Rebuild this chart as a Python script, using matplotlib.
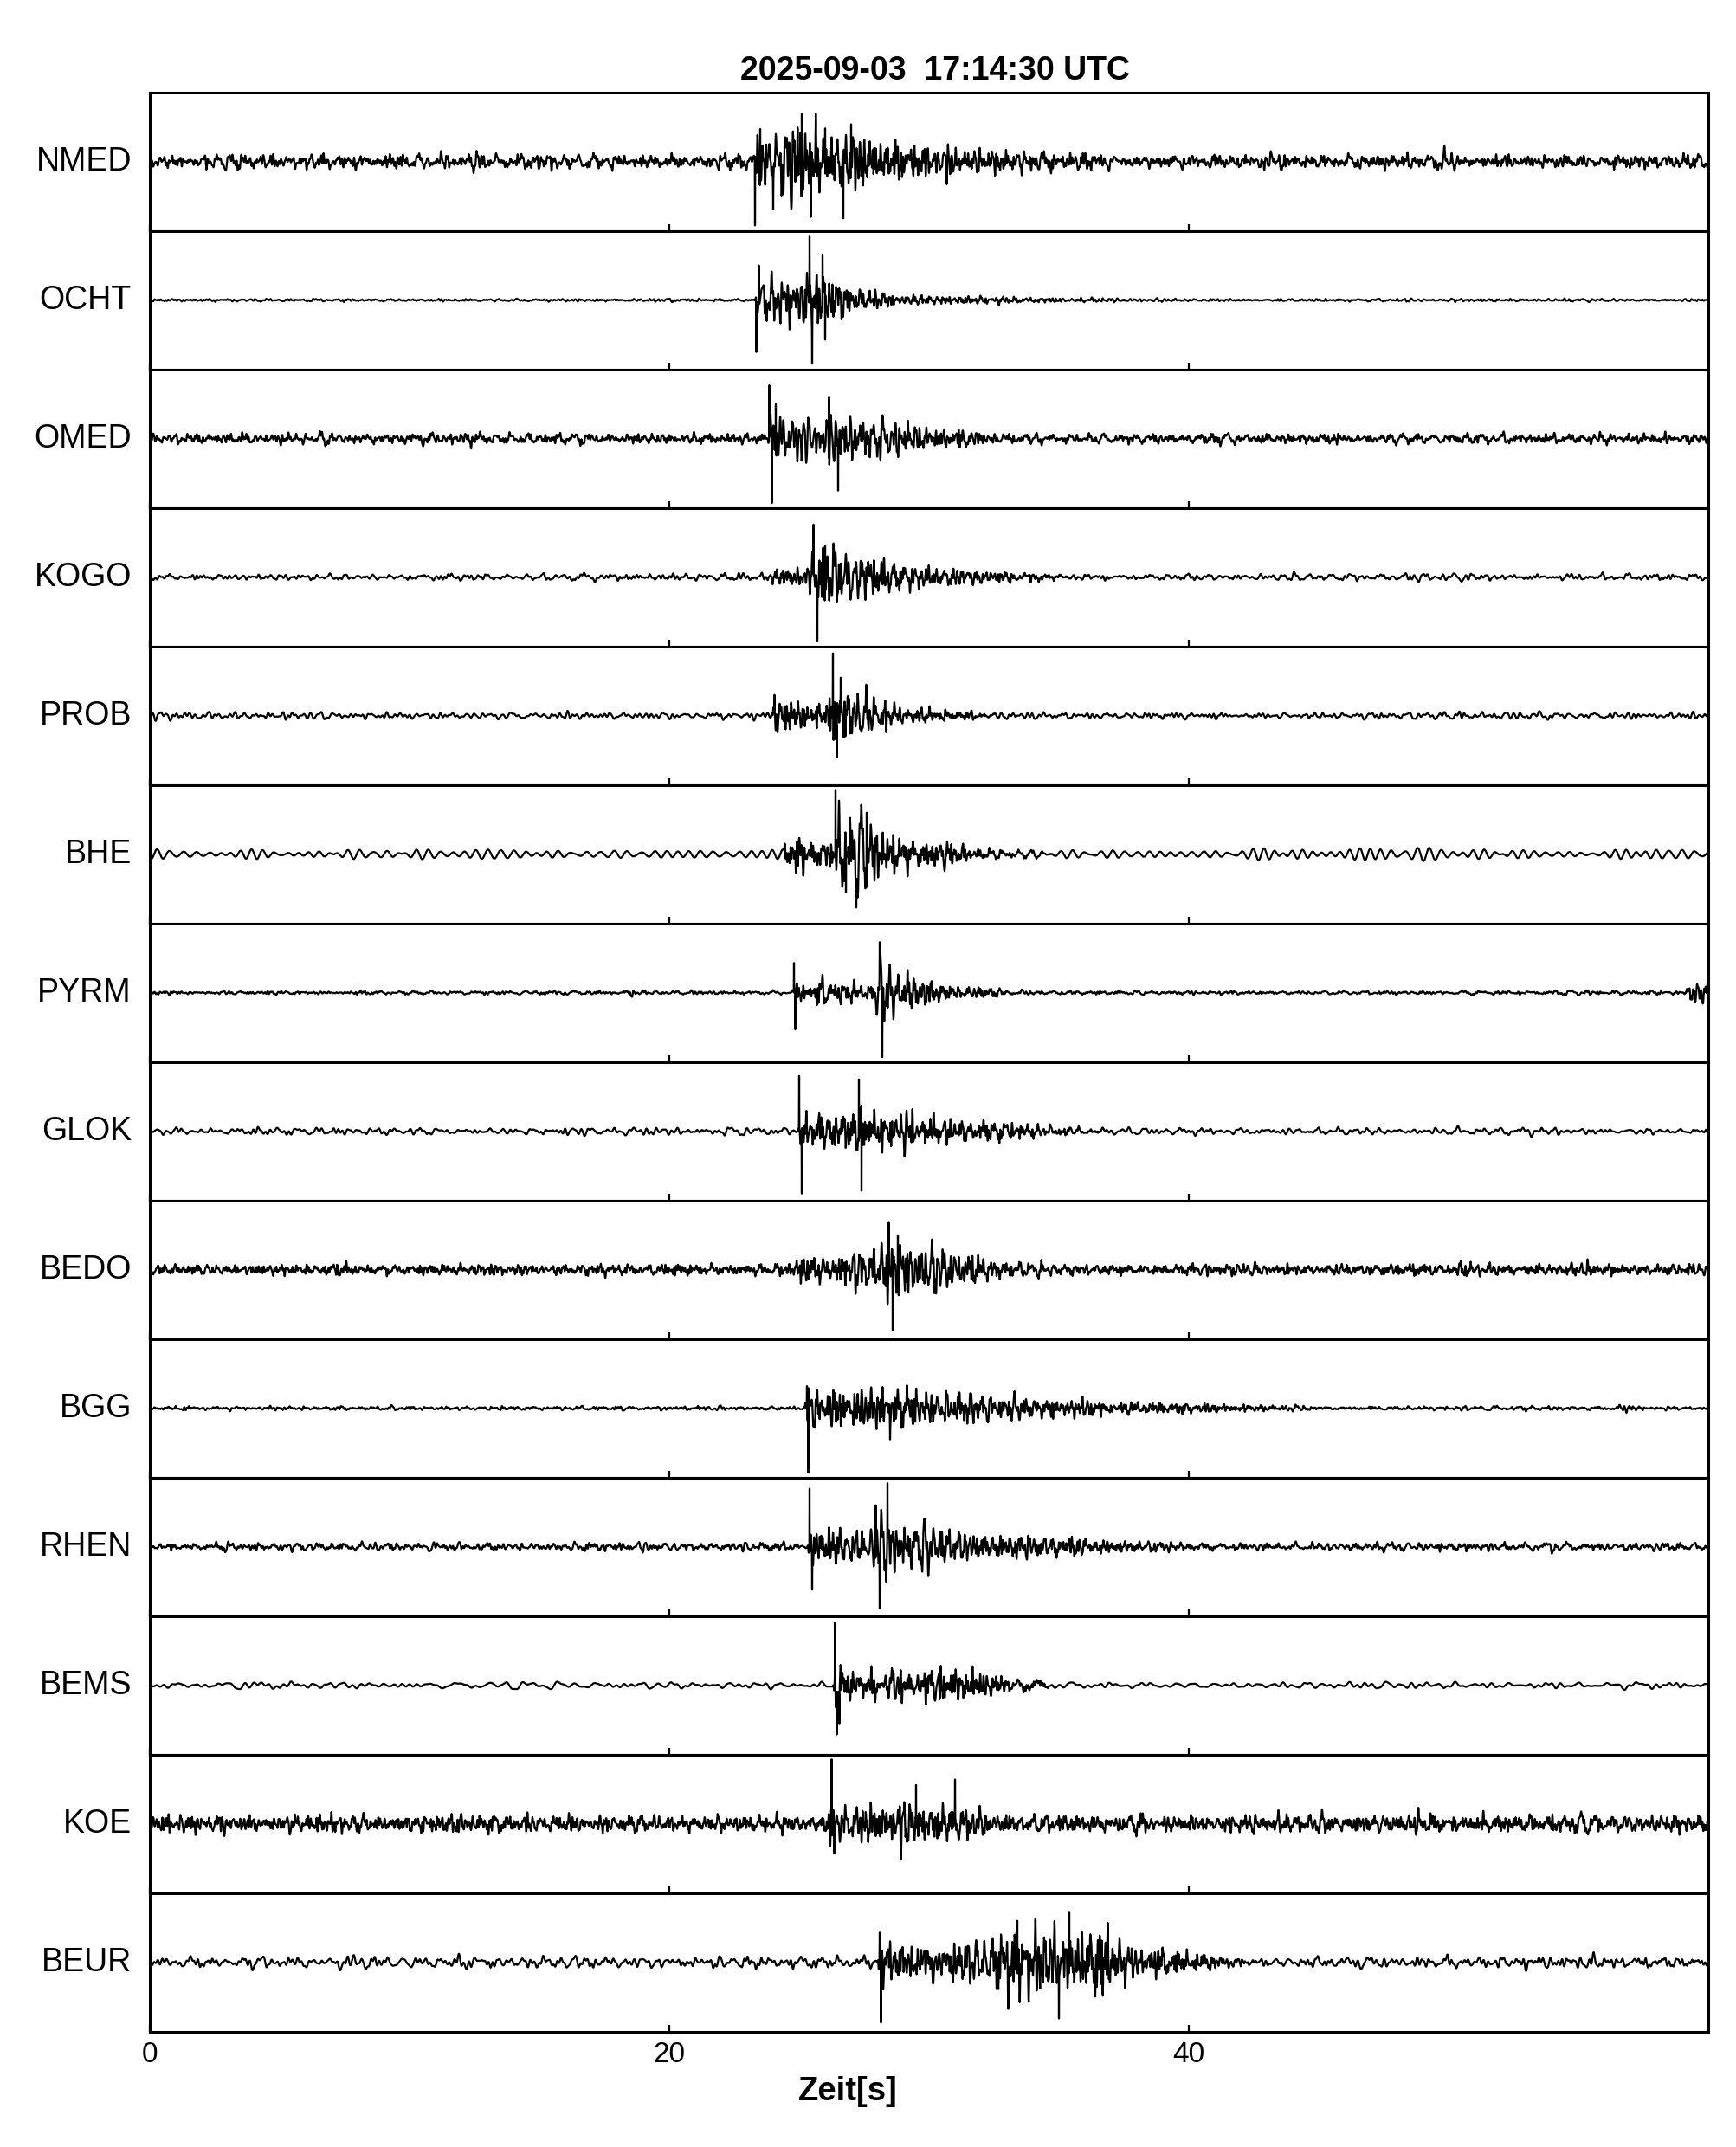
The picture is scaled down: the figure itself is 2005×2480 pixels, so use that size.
import numpy as np
import matplotlib
matplotlib.use("Agg")
import matplotlib.pyplot as plt

plt.rcParams['font.family'] = ['Liberation Sans', 'DejaVu Sans']

# Stations, top to bottom
stations = ['NMED', 'OCHT', 'OMED', 'KOGO', 'PROB', 'BHE', 'PYRM',
            'GLOK', 'BEDO', 'BGG', 'RHEN', 'BEMS', 'KOE', 'BEUR']

# background noise level (fraction of half panel height)
noise_level = [0.11, 0.02, 0.08, 0.05, 0.05, 0.07, 0.03,
               0.05, 0.08, 0.03, 0.06, 0.05, 0.13, 0.09]

# event envelope key points (time [s], amplitude)
env_times = [
    [23.25, 23.35, 25.0, 27.0, 28.0, 30.0, 33.0, 37.0],
    [23.3, 23.4, 24.8, 25.3, 26.3, 27.0, 30.0, 35.0, 40.0],
    [23.8, 23.9, 25.5, 26.0, 27.0, 28.5, 31.0, 34.0],
    [23.6, 23.8, 25.2, 25.5, 26.5, 28.0, 31.0, 36.0],
    [23.9, 24.0, 26.0, 26.2, 27.0, 28.0, 30.0, 33.0],
    [24.4, 24.5, 26.2, 26.5, 28.0, 29.5, 32.0, 35.0],
    [18.2, 18.5, 18.8, 24.75, 24.85, 27.8, 28.1, 29.0, 31.0, 34.0, 59.0, 59.4, 60.0],
    [24.95, 25.05, 27.0, 27.3, 28.5, 30.0, 33.0, 37.0],
    [24.8, 24.9, 28.0, 28.4, 29.5, 31.0, 33.0, 36.0, 50.0, 50.7, 51.4],
    [25.2, 25.3, 27.5, 28.5, 30.0, 33.0, 37.0, 42.0, 46.0, 56.5, 57.0, 57.5],
    [25.3, 25.4, 27.8, 28.2, 29.5, 32.0, 36.0, 41.0],
    [26.3, 26.4, 28.0, 29.5, 30.0, 31.5, 33.0, 35.0],
    [26.1, 26.2, 28.0, 29.0, 30.0, 31.0, 32.5, 34.0],
    [28.0, 28.1, 32.0, 32.6, 36.4, 38.0, 40.0, 43.0],
]
env_amps = [
    [0, 0.45, 0.5, 0.45, 0.3, 0.22, 0.12, 0],
    [0, 0.22, 0.25, 0.55, 0.5, 0.15, 0.07, 0.03, 0],
    [0, 0.4, 0.35, 0.45, 0.4, 0.25, 0.12, 0],
    [0, 0.1, 0.15, 0.5, 0.4, 0.25, 0.12, 0],
    [0, 0.22, 0.2, 0.55, 0.45, 0.2, 0.1, 0],
    [0, 0.25, 0.25, 0.55, 0.45, 0.22, 0.08, 0],
    [0, 0.1, 0, 0, 0.2, 0.15, 0.45, 0.25, 0.12, 0, 0, 0.15, 0.15],
    [0, 0.3, 0.25, 0.45, 0.3, 0.22, 0.12, 0],
    [0, 0.2, 0.25, 0.55, 0.35, 0.25, 0.12, 0, 0, 0.15, 0],
    [0, 0.3, 0.3, 0.4, 0.25, 0.15, 0.1, 0.06, 0, 0, 0.07, 0],
    [0, 0.3, 0.25, 0.5, 0.3, 0.2, 0.12, 0],
    [0, 0.3, 0.2, 0.2, 0.3, 0.25, 0.12, 0],
    [0, 0.3, 0.25, 0.3, 0.35, 0.3, 0.1, 0],
    [0, 0.3, 0.3, 0.5, 0.45, 0.25, 0.15, 0],
]

# largest single peaks (time [s], signed amplitude)
spike_times = [
    [23.3, 23.5, 24.0, 25.1, 25.45, 26.0, 26.7, 27.0],
    [23.35, 23.45, 25.4, 25.5, 25.9, 26.0],
    [23.85, 23.95, 24.1, 26.15, 26.5],
    [25.55, 25.7, 26.0],
    [24.05, 26.3, 26.45, 26.6],
    [26.4, 26.8, 27.2, 27.6],
    [24.8, 24.85, 28.1, 28.2],
    [25.0, 25.1, 27.3, 27.4],
    [28.45, 28.6, 28.8],
    [25.3, 25.35, 28.5],
    [25.4, 25.5, 27.95, 28.1, 28.4],
    [26.38, 26.45, 26.55],
    [26.25, 26.35, 29.5, 31.0],
    [28.1, 28.15, 33.4, 35.0, 35.4],
]
spike_amps = [
    [-0.92, 0.47, -0.69, 0.69, -0.8, 0.48, -0.82, 0.54],
    [-0.75, 0.5, 0.92, -0.92, 0.66, -0.57],
    [0.77, -0.93, 0.5, 0.61, -0.75],
    [0.76, -0.92, 0.45],
    [0.3, 0.9, -0.6, 0.55],
    [0.93, -0.55, -0.77, 0.6],
    [0.43, -0.53, 0.73, -0.93],
    [0.8, -0.9, 0.75, -0.86],
    [0.69, -0.87, 0.5],
    [0.32, -0.93, -0.45],
    [0.84, -0.62, 0.6, -0.89, 0.92],
    [0.91, -0.71, -0.55],
    [0.93, -0.43, 0.56, 0.64],
    [0.43, -0.87, 0.6, -0.81, 0.73],
]

# frequency band of the background wiggle per station (Hz)
noise_fmin = [1.0, 1.0, 1.0, 0.8, 0.8, 1.8, 1.0, 0.8, 1.5, 1.0, 1.0, 0.6, 1.5, 0.8]
noise_fmax = [15.0, 12.0, 14.0, 8.0, 7.0, 2.8, 12.0, 7.0, 16.0, 12.0, 12.0, 4.0, 18.0, 8.0]

fs = 100.0
t = np.arange(0, 60, 1 / fs)


def frac_hash(x):
    # fixed scrambling of an index into [0, 1)
    return (np.sin(x * 12.9898 + 4.1414) * 43758.5453) % 1.0


def carrier(fmin, fmax, seed, n=300):
    # deterministic broadband wiggle, scaled so its peaks are about 1
    k = np.arange(n) + 1000.0 * seed
    f = fmin + (fmax - fmin) * frac_hash(k)
    ph = 2 * np.pi * frac_hash(k + 0.5)
    w = 1 / np.sqrt(f)
    y = np.zeros_like(t)
    for fi, pi, wi in zip(f, ph, w):
        y += wi * np.sin(2 * np.pi * fi * t + pi)
    return y / np.percentile(np.abs(y), 98)


fig, axes = plt.subplots(len(stations), 1, figsize=(20.05, 24.8), dpi=100, sharex=True)
fig.subplots_adjust(left=173 / 2005, right=1973 / 2005, top=1 - 106.7 / 2480,
                    bottom=1 - 2346.7 / 2480, hspace=0)

for i, (ax, name) in enumerate(zip(axes, stations)):
    bg = noise_level[i] * carrier(noise_fmin[i], noise_fmax[i], i + 1)
    ev = np.interp(t, env_times[i], env_amps[i], left=0, right=env_amps[i][-1])
    y = bg + ev * carrier(2.0, 18.0, i + 31)
    for ts, a in zip(spike_times[i], spike_amps[i]):
        y[int(round(ts * fs))] = a
    ax.plot(t, y, color='black', lw=1.6)
    ax.set_xlim(0, 60)
    ax.set_ylim(-1, 1)
    ax.set_yticks([])
    ax.set_xticks([0, 20, 40])
    ax.tick_params(axis='x', direction='in', length=6, width=1.6, top=False,
                   labelsize=24, pad=8)
    for sp in ax.spines.values():
        sp.set_linewidth(2.2)
    ax.text(-0.0117, 0.5, name, transform=ax.transAxes, ha='right', va='center',
            fontsize=27)

axes[-1].set_xticklabels(['0', '20', '40'])

fig.text(1080 / 2005, 1 - 82 / 2480, '2025-09-03  17:14:30 UTC', ha='center',
         va='center', fontsize=27, fontweight='bold')
fig.text(979 / 2005, 1 - 2416 / 2480, 'Zeit[s]', ha='center', va='center',
         fontsize=27.5, fontweight='bold')

fig.savefig('out.png', dpi=100)
